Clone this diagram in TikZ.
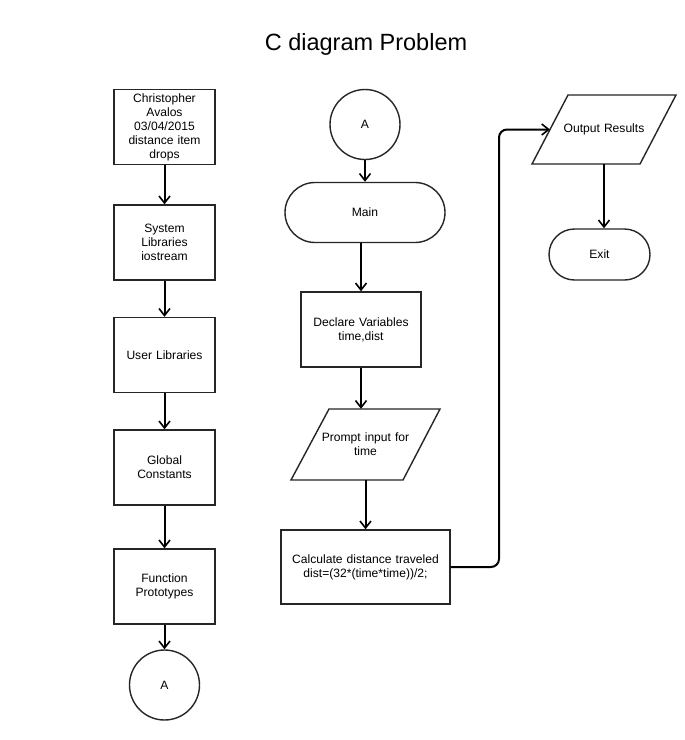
\documentclass[tikz,border=0pt]{standalone}
\usepackage{fontspec}
\setmainfont{Liberation Sans}
\usetikzlibrary{arrows.meta}
\begin{document}
\begin{tikzpicture}[x=1pt,y=-1pt,
  every node/.style={font=\fontsize{12.1}{14}\selectfont, align=center, inner sep=2pt},
  shapeline/.style={draw=black!85, line width=1.4pt},
  box/.style={shapeline, minimum width=101pt, minimum height=75pt, text width=96pt},
  term/.style={shapeline, rounded corners=#1},
  iotext/.style={inner sep=0pt},
  conn/.style={shapeline, circle, minimum size=70pt},
  arr/.style={line width=2pt, -{Straight Barb[length=7pt,width=11pt,line width=1.6pt]}}
]
\useasboundingbox (0,0) rectangle (685,740);
\fill[white] (0,0) rectangle (685,740);
\node[font=\fontsize{23.5}{26}\selectfont] (title) at (366,44) {C diagram Problem};
% left column
\node[box] (b1) at (164.5,127) {Christopher\\Avalos\\03/04/2015\\distance item\\drops};
\node[box] (b2) at (164.5,242.5) {System\\Libraries\\iostream};
\node[box] (b3) at (164.5,355) {User Libraries};
\node[box] (b4) at (164.5,467.5) {Global\\Constants};
\node[box] (b5) at (164.5,586.5) {Function\\Prototypes};
\node[conn] (a1) at (164.5,685) {A};
\draw[arr] (b1.south) -- (b2.north);
\draw[arr] (b2.south) -- (b3.north);
\draw[arr] (b3.south) -- (b4.north);
\draw[arr] (b4.south) -- (b5.north);
\draw[arr] (b5.south) -- (a1.north);
% middle column
\node[conn] (a2) at (365,124.5) {A};
\node[term=30pt, minimum width=160pt, minimum height=60pt] (main) at (365,212.5) {Main};
\node[box, minimum width=120pt, text width=116pt] (decl) at (361,329.5) {Declare Variables\\time,dist};
\node[iotext, minimum width=111pt, minimum height=71pt, text width=100pt] (prompt) at (365.5,444.5) {Prompt input for\\time};
\draw[shapeline] (329,409) -- (440,409) -- (403,480) -- (291,480) -- cycle;
\node[box, minimum width=169pt, text width=165pt, minimum height=74pt] (calc) at (365.5,567) {Calculate distance traveled\\dist=(32*(time*time))/2;};
\draw[arr] (a2.south) -- (main.north);
\draw[arr] (main.south -| decl.north) -- (decl.north);
\draw[arr] (decl.south) -- (decl.south |- prompt.north);
\draw[arr] (prompt.south -| calc.north) -- (calc.north);
% right column
\node[iotext, minimum width=108pt, minimum height=69pt, text width=100pt] (out) at (604,129.5) {Output Results};
\draw[shapeline] (568,95) -- (676,95) -- (640,164) -- (532,164) -- cycle;
\coordinate (outleft) at (550,129.5);
\node[term=25.5pt, minimum width=101pt, minimum height=51pt] (exit) at (599.5,254.5) {Exit};
\draw[arr] (out.south -| 604,0) -- (604,0 |- exit.north);
\coordinate (bend) at (499,0);
\draw[arr, rounded corners=8pt] (calc.east) -- (bend |- calc.east) -- (bend |- outleft) -- (outleft);
\end{tikzpicture}
\end{document}
